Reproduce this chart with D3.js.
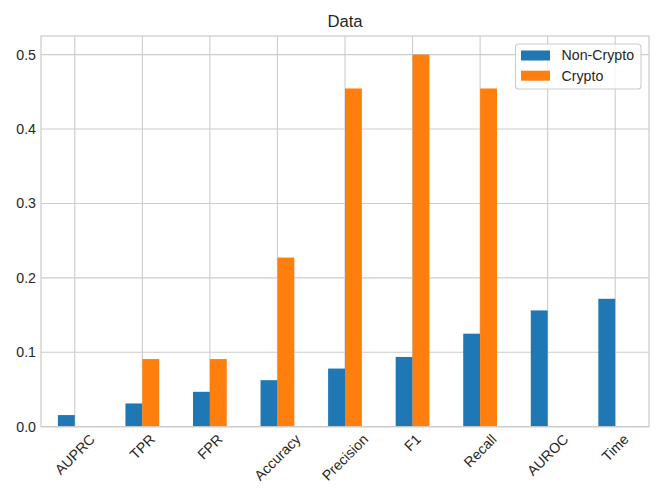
<!DOCTYPE html>
<html><head><meta charset="utf-8">
<script src="https://cdn.jsdelivr.net/npm/d3@7"></script>
<style>
html,body{margin:0;padding:0;background:#fff;}
text{font-family:"Liberation Sans",Arial,sans-serif;fill:#262626;}
</style></head>
<body><svg id="c" width="664" height="498"></svg>
<script>
const categories = ["AUPRC","TPR","FPR","Accuracy","Precision","F1","Recall","AUROC","Time"];
const seriesNames = ["Non-Crypto","Crypto"];
const nonCrypto = [0.015625,0.03125,0.046875,0.0625,0.078125,0.09375,0.125,0.15625,0.171875];
const crypto = [0,0.0909,0.0909,0.2273,0.4545,0.5,0.4545,0,0];
const yTicks = [0,0.1,0.2,0.3,0.4,0.5];
const colors = ["#1f77b4","#ff7f0e"];
const title = "Data";

const svg = d3.select("#c");
const L=41, R=649, T=36, B=426.7;
const x = d3.scaleLinear().domain([-0.5, categories.length-0.5]).range([L,R]);
const y = d3.scaleLinear().domain([0,0.525]).range([B,T]);
const grid = "#cccccc";
const fs = "14.2px";

// gridlines
svg.append("g").selectAll("line").data(categories).join("line")
  .attr("x1",(d,i)=>x(i)).attr("x2",(d,i)=>x(i)).attr("y1",T).attr("y2",B)
  .attr("stroke",grid).attr("stroke-width",1.1);
svg.append("g").selectAll("line").data(yTicks).join("line")
  .attr("x1",L).attr("x2",R).attr("y1",d=>y(d)).attr("y2",d=>y(d))
  .attr("stroke",grid).attr("stroke-width",1.1);

// bars
const bw = 0.25;
const series = [nonCrypto, crypto];
series.forEach((vals,s)=>{
  svg.append("g").selectAll("rect").data(vals).join("rect")
    .attr("x",(d,i)=>x(i - bw + s*bw))
    .attr("width",x(bw)-x(0))
    .attr("y",d=>y(d))
    .attr("height",d=>y(0)-y(d))
    .attr("fill",colors[s]);
});

// frame
svg.append("rect").attr("x",L).attr("y",T).attr("width",R-L).attr("height",B-T)
  .attr("fill","none").attr("stroke",grid).attr("stroke-width",1.25);

// y tick labels
svg.append("g").selectAll("text").data(yTicks).join("text")
  .attr("x",L-5).attr("y",d=>y(d)).attr("dy","0.35em")
  .attr("text-anchor","end").attr("font-size",fs)
  .text(d=>d3.format(".1f")(d));

// x tick labels rotated 45, bbox centered on tick, top aligned
const xl = svg.append("g").selectAll("text").data(categories).join("text")
  .attr("font-size",fs).attr("text-anchor","middle")
  .attr("dominant-baseline","central")
  .text(d=>d);
xl.each(function(d,i){
  const w = this.getComputedTextLength();
  const h = 14.2;
  const half = (w+h)*Math.SQRT1_2/2;
  const cx = x(i), cy = B + 5 + half;
  d3.select(this).attr("x",cx).attr("y",cy)
    .attr("transform",`rotate(-45,${cx},${cy})`);
});

// title
svg.append("text").attr("x",(L+R)/2).attr("y",27).attr("text-anchor","middle")
  .attr("font-size","16.7px").text(title);

// legend
const lg = svg.append("g");
lg.append("rect").attr("x",515.5).attr("y",44).attr("width",125.5).attr("height",45)
  .attr("rx",3).attr("fill","#fff").attr("fill-opacity",0.8)
  .attr("stroke","#cccccc").attr("stroke-width",1.1);
seriesNames.forEach((n,i)=>{
  lg.append("rect").attr("x",521).attr("y",50.5+i*20.2).attr("width",29).attr("height",10)
    .attr("fill",colors[i]);
  lg.append("text").attr("x",561.5).attr("y",55.5+i*20.2).attr("dy","0.35em")
    .attr("font-size",fs).text(n);
});
</script></body></html>
